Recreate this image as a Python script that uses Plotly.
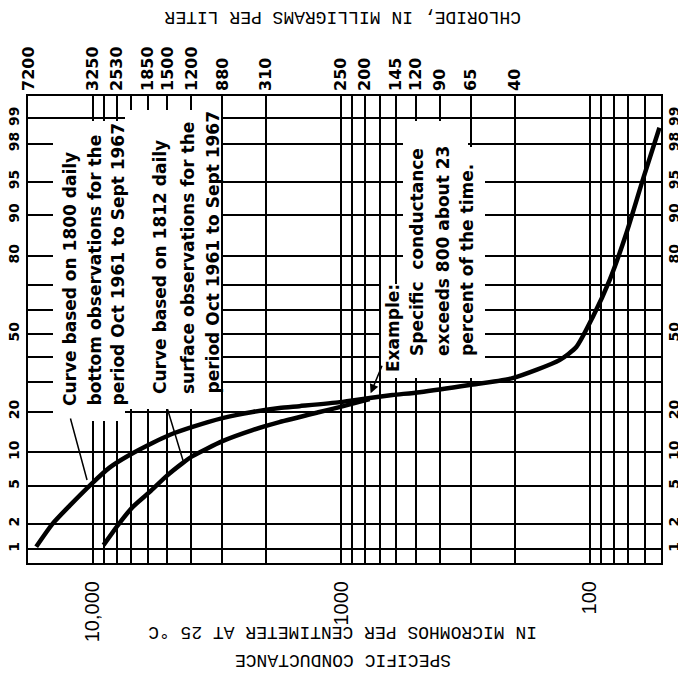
import math
from statistics import NormalDist
import plotly.graph_objects as go

# ---------------- data ----------------
# Curve based on 1800 daily bottom observations
bottom_cond = [16850, 14490, 12380, 10090, 8540, 7100, 5740, 4900, 3960, 3000, 2270,
               1770, 1470, 1010, 767, 621, 483, 304, 204, 132, 113, 97, 83, 71, 61, 52.3]
bottom_pct = [1.07, 2.0, 3.15, 5.25, 7.4, 9.5, 11.9, 13.7, 15.7, 18.1, 19.9,
              21.1, 21.7, 23.0, 24.4, 25.4, 26.4, 29.0, 31.6, 38.8, 44.3, 57.2, 71.9, 86.2, 95.2, 98.7]

# Curve based on 1812 daily surface observations
surface_cond = [9030, 7790, 6900, 5900, 5040, 4340, 3960, 3000, 2270, 1770, 1220, 1014, 767]
surface_pct = [1.12, 2.04, 3.05, 4.35, 6.2, 8.1, 9.3, 12.3, 14.9, 17.0, 19.9, 21.4, 24.0]

# specific conductance grid / tick labels
grid_cond = [60, 70, 80, 90, 100, 200, 300, 400, 500, 600, 700, 800, 900, 1000,
             2000, 3000, 4000, 5000, 6000, 7000, 8000, 9000, 10000]
cond_labels = {100: "100", 1000: "1000", 10000: "10,000"}

# chloride scale (top)
chloride_cond = [18000, 10000, 8000, 6000, 5000, 4000, 3000, 2000, 1000, 800, 600, 500, 400, 300, 200]
chloride_text = ["7200", "3250", "2530", "1850", "1500", "1200", "880", "310",
                 "250", "200", "145", "120", "90", "65", "40"]

# probability scale
pct_grid = [1, 2, 5, 10, 20, 30, 40, 50, 60, 70, 80, 90, 95, 98, 99]
pct_labeled = [1, 2, 5, 10, 20, 50, 80, 90, 95, 98, 99]

# leader / arrow anchor points (conductance, percent)
leader_bottom = (10520, 5.7)
leader_surface = (4320, 8.5)
example_point = (760, 26.0)

# ---------------- helpers ----------------
nd = NormalDist()


def z(p):
    return nd.inv_cdf(p / 100.0)


W, H = 686, 677
OFF = 8                      # page body margin
L, R, T, B = 28, 661, 96, 563  # plot frame in window pixels


def px(x):
    return (x - L) / (R - L)


def py(y):
    return (B - y) / (B - T)


BLACK = "black"
LETTER = "DejaVu Sans"
MONO = "Liberation Mono"

fig = go.Figure()

fig.add_trace(go.Scatter(x=bottom_cond, y=[z(p) for p in bottom_pct], mode="lines",
                         line=dict(color=BLACK, width=4.5, shape="spline", smoothing=0.6),
                         showlegend=False, hoverinfo="skip"))
fig.add_trace(go.Scatter(x=surface_cond, y=[z(p) for p in surface_pct], mode="lines",
                         line=dict(color=BLACK, width=4.5, shape="spline", smoothing=0.6),
                         showlegend=False, hoverinfo="skip"))
# invisible traces so the mirrored axes render
fig.add_trace(go.Scatter(x=[1000], y=[0], mode="markers", marker=dict(opacity=0),
                         xaxis="x2", yaxis="y", showlegend=False, hoverinfo="skip"))
fig.add_trace(go.Scatter(x=[1000], y=[0], mode="markers", marker=dict(opacity=0),
                         xaxis="x", yaxis="y2", showlegend=False, hoverinfo="skip"))

xr = [4.2596, 1.7123]
yr = [-2.477, 2.569]

ytick_vals = [z(p) for p in pct_grid]
ytick_text = [("<b>%d</b>" % p) if p in pct_labeled else "" for p in pct_grid]

fig.update_layout(
    width=W, height=H,
    margin=dict(l=L - OFF, r=W - (R - OFF), t=T - OFF, b=H - (B - OFF), pad=0, autoexpand=False),
    paper_bgcolor="white", plot_bgcolor="white",
    xaxis=dict(type="log", range=xr, tickmode="array", tickvals=grid_cond,
               ticktext=[cond_labels.get(v, "") for v in grid_cond],
               tickangle=-90, ticks="", showgrid=True, gridcolor=BLACK, gridwidth=1.6,
               showline=True, linecolor=BLACK, linewidth=2.2, mirror=True, zeroline=False,
               tickfont=dict(family="Liberation Sans", size=20, color=BLACK),
               ticklabelstandoff=8, automargin=False),
    xaxis2=dict(type="log", range=xr, overlaying="x", side="top", tickmode="array",
                tickvals=chloride_cond, ticktext=["<b>%s</b>" % t for t in chloride_text],
                tickangle=-90, ticks="", showgrid=False, showline=False, zeroline=False,
                tickfont=dict(family=LETTER, size=16, color=BLACK), ticklabelstandoff=4,
                automargin=False),
    yaxis=dict(range=yr, tickmode="array", tickvals=ytick_vals, ticktext=ytick_text,
               tickangle=-90, ticks="", showgrid=True, gridcolor=BLACK, gridwidth=1.6,
               showline=True, linecolor=BLACK, linewidth=2.2, mirror=True, zeroline=False,
               tickfont=dict(family=LETTER, size=14, color=BLACK), ticklabelstandoff=1,
               automargin=False),
    yaxis2=dict(range=yr, overlaying="y", side="right", tickmode="array", tickvals=ytick_vals,
                ticktext=ytick_text, tickangle=-90, ticks="", showgrid=False, showline=False,
                zeroline=False, tickfont=dict(family=LETTER, size=14, color=BLACK),
                ticklabelstandoff=3, automargin=False),
)

# white-out boxes behind the notes (window pixels: x0, y0, x1, y1)
boxes = [(53, 121, 125, 421), (125, 110, 221, 409), (403, 147, 485, 378),
         (403, 121, 468, 147), (381, 284, 403, 378)]
for x0, y0, x1, y1 in boxes:
    fig.add_annotation(text=" ", xref="paper", yref="paper", x=px(x0), y=py(y0),
                       xanchor="left", yanchor="top", width=x1 - x0, height=y1 - y0,
                       bgcolor="white", borderpad=0, borderwidth=0, showarrow=False)

notes = [
    ("Curve based on 1800 daily", 70, 408),
    ("bottom observations for the", 95, 408),
    ("period Oct 1961 to Sept 1967", 118, 408),
    ("Curve based on 1812 daily", 160, 396),
    ("surface observations for the", 188, 396),
    ("period Oct 1961 to Sept 1967", 212, 396),
    ("Example:", 393, 374),
    ("Specific  conductance", 417, 358),
    ("exceeds 800 about 23", 443, 358),
    ("percent of the time.", 467, 358),
]
for txt, x, y in notes:
    fig.add_annotation(text="<b>%s</b>" % txt, xref="paper", yref="paper", x=px(x), y=py(y),
                       xanchor="center", yanchor="bottom", textangle=-90, showarrow=False,
                       font=dict(family=LETTER, size=17, color=BLACK))

# leader lines and arrow
for (c, p), ax, ay, head in [(leader_bottom, -17, -63, 0), (leader_surface, -16, -53, 0),
                             (example_point, 12, -29, 2)]:
    fig.add_annotation(x=math.log10(c), y=z(p), xref="x", yref="y", text="", showarrow=True,
                       ax=ax, ay=ay, arrowhead=head, arrowsize=1.2, arrowwidth=1.5,
                       arrowcolor=BLACK)

# axis titles (upside down in the scan)
fig.add_annotation(text="CHLORIDE, IN MILLIGRAMS PER LITER", xref="paper", yref="paper",
                   x=px(343), y=py(17), xanchor="center", yanchor="middle", textangle=180,
                   showarrow=False, font=dict(family=MONO, size=18, color=BLACK))
fig.add_annotation(text="IN MICROMHOS PER CENTIMETER AT 25 °C", xref="paper", yref="paper",
                   x=px(343), y=py(632), xanchor="center", yanchor="middle", textangle=180,
                   showarrow=False, font=dict(family=MONO, size=18, color=BLACK))
fig.add_annotation(text="SPECIFIC CONDUCTANCE", xref="paper", yref="paper",
                   x=px(343), y=py(660), xanchor="center", yanchor="middle", textangle=180,
                   showarrow=False, font=dict(family=MONO, size=18, color=BLACK))

fig.write_html("out.html")
